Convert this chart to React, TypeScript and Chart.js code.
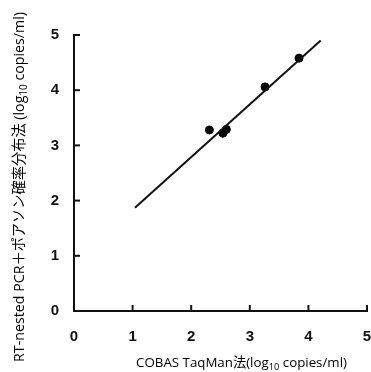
import React, { useEffect, useRef } from "react";
import { Chart, registerables } from "chart.js";

Chart.register(...registerables);

const pointX = [2.31, 2.54, 2.6, 3.26, 3.84];
const pointY = [3.28, 3.22, 3.29, 4.06, 4.58];
const fitX = [1.04, 4.21];
const fitY = [1.87, 4.9];
const xTicks = [0, 1, 2, 3, 4, 5];
const yTicks = [0, 1, 2, 3, 4, 5];
const xTitle = [
  { t: "COBAS TaqMan法(log", sub: false },
  { t: "10", sub: true },
  { t: " copies/ml)", sub: false },
];
const yTitle = [
  { t: "RT-nested PCR＋ポアソン確率分布法 (log", sub: false },
  { t: "10", sub: true },
  { t: " copies/ml)", sub: false },
];

const TITLE_FONT = "'Open Sans', 'Noto Sans CJK JP', sans-serif";

function drawRich(ctx: CanvasRenderingContext2D, segs: { t: string; sub: boolean }[], target: number) {
  const measure = (size: number) => {
    let total = 0;
    const widths = segs.map((s) => {
      ctx.font = `${s.sub ? size * 0.7 : size}px ${TITLE_FONT}`;
      const w = ctx.measureText(s.t).width;
      total += w;
      return w;
    });
    return { total, widths };
  };
  const base = measure(12);
  const size = (12 * target) / base.total;
  const m = measure(size);
  let x = -m.total / 2;
  ctx.textBaseline = "middle";
  ctx.textAlign = "left";
  segs.forEach((s, i) => {
    ctx.font = `${s.sub ? size * 0.7 : size}px ${TITLE_FONT}`;
    ctx.fillText(s.t, x, s.sub ? size * 0.3 : 0);
    x += m.widths[i];
  });
}

const decorPlugin = {
  id: "decor",
  afterDraw(chart: any) {
    const ctx = chart.ctx as CanvasRenderingContext2D;
    const xs = chart.scales.x;
    const ys = chart.scales.y;
    const area = chart.chartArea;
    ctx.save();
    ctx.strokeStyle = "#111";
    ctx.lineWidth = 2;
    xTicks.forEach((v) => {
      const px = xs.getPixelForValue(v);
      ctx.beginPath();
      ctx.moveTo(px, area.bottom);
      ctx.lineTo(px, area.bottom - 6);
      ctx.stroke();
    });
    yTicks.forEach((v) => {
      const py = ys.getPixelForValue(v);
      ctx.beginPath();
      ctx.moveTo(area.left, py);
      ctx.lineTo(area.left + 6, py);
      ctx.stroke();
    });
    ctx.fillStyle = "#000";
    ctx.save();
    ctx.translate(241.5, 363);
    drawRich(ctx, xTitle, 211);
    ctx.restore();
    ctx.save();
    ctx.translate(20, 187);
    ctx.rotate(-Math.PI / 2);
    drawRich(ctx, yTitle, 350);
    ctx.restore();
    ctx.restore();
  },
};

export default function App() {
  const ref = useRef<HTMLCanvasElement>(null);
  useEffect(() => {
    const chart = new Chart(ref.current!, {
      type: "scatter",
      data: {
        datasets: [
          {
            data: fitX.map((x, i) => ({ x, y: fitY[i] })),
            showLine: true,
            borderColor: "#111",
            borderWidth: 2,
            pointRadius: 0,
          },
          {
            data: pointX.map((x, i) => ({ x, y: pointY[i] })),
            backgroundColor: "#000",
            borderColor: "#000",
            pointRadius: 4,
            pointHoverRadius: 4,
          },
        ],
      },
      options: {
        animation: false,
        responsive: false,
        maintainAspectRatio: false,
        layout: { autoPadding: false, padding: { top: 35, right: 4, left: 0, bottom: 0 } },
        plugins: { legend: { display: false }, tooltip: { enabled: false } },
        scales: {
          x: {
            type: "linear",
            min: 0,
            max: 5,
            afterFit: (s: any) => {
              s.height = 61;
              s.paddingLeft = 0;
              s.paddingRight = 0;
            },
            afterBuildTicks: (s: any) => {
              s.ticks = xTicks.map((v) => ({ value: v }));
            },
            grid: { display: false, drawTicks: false },
            border: { display: true, color: "#111", width: 2 },
            ticks: {
              padding: 17,
              color: "#111",
              font: { family: "'Liberation Sans', Arial, sans-serif", size: 15, weight: "bold" },
            },
          },
          y: {
            type: "linear",
            min: 0,
            max: 5,
            afterFit: (s: any) => {
              s.width = 74;
              s.paddingTop = 0;
              s.paddingBottom = 0;
            },
            afterBuildTicks: (s: any) => {
              s.ticks = yTicks.map((v) => ({ value: v }));
            },
            grid: { display: false, drawTicks: false },
            border: { display: true, color: "#111", width: 2 },
            ticks: {
              padding: 15,
              color: "#111",
              font: { family: "'Liberation Sans', Arial, sans-serif", size: 15, weight: "bold" },
            },
          },
        },
      },
      plugins: [decorPlugin],
    } as any);
    return () => chart.destroy();
  }, []);
  return (
    <div style={{ position: "absolute", left: 0, top: 0, width: 371, height: 372, background: "#fff" }}>
      <canvas ref={ref} width={371} height={372} style={{ width: 371, height: 372 }} />
    </div>
  );
}
